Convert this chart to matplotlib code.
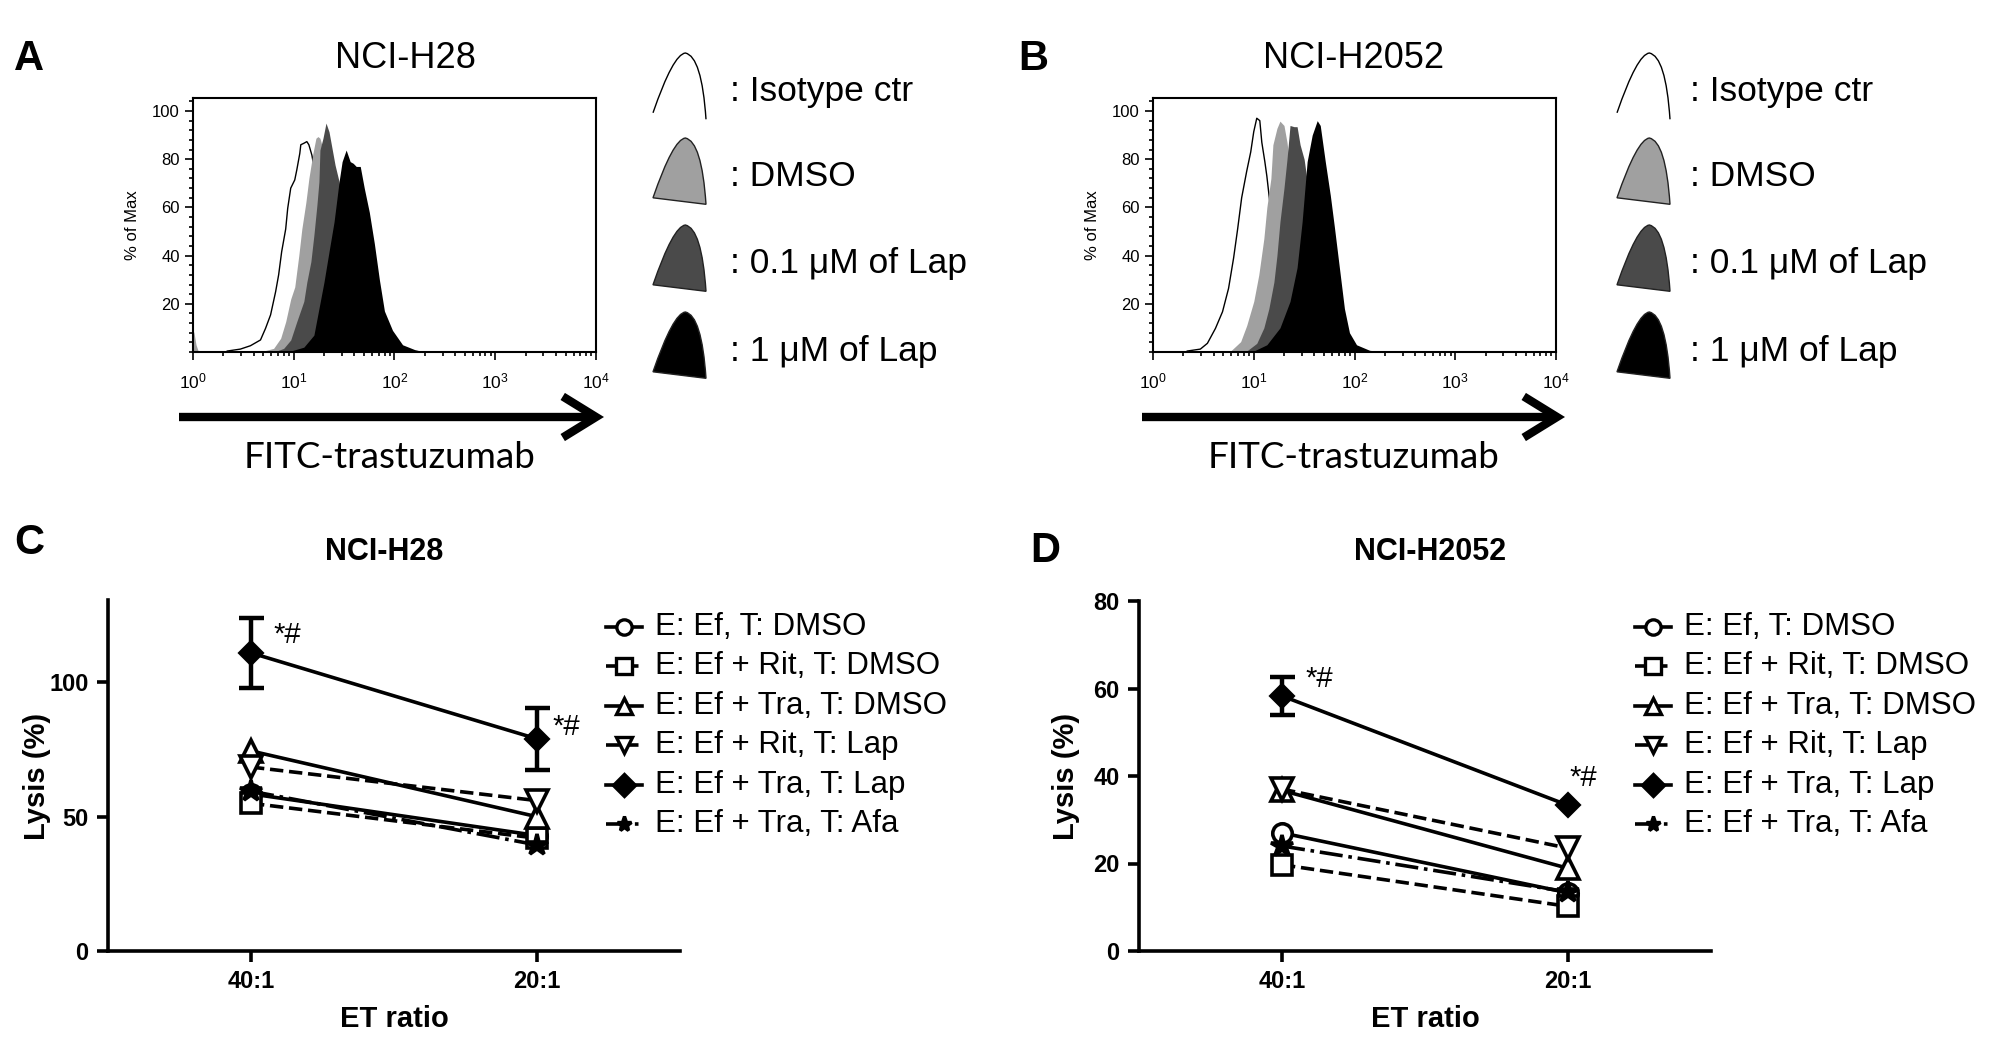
import numpy as np
import matplotlib
matplotlib.use("Agg")
import matplotlib.pyplot as plt
from matplotlib.patches import PathPatch, FancyArrowPatch, ArrowStyle
from matplotlib.path import Path
from matplotlib.ticker import MultipleLocator, FixedLocator, LogLocator, NullFormatter

plt.rcParams['font.family'] = ['Liberation Sans', 'DejaVu Sans']
plt.rcParams['mathtext.fontset'] = 'custom'
plt.rcParams['mathtext.rm'] = 'Liberation Sans'
plt.rcParams['mathtext.it'] = 'Liberation Sans:italic'
plt.rcParams['mathtext.bf'] = 'Liberation Sans:bold'

# ---- flow histograms: log10(fluorescence), % of max ----
iso_a_log = [0.34, 0.47, 0.57, 0.67, 0.72, 0.77, 0.82, 0.85, 0.88, 0.92, 0.94, 0.97, 1.01, 1.03, 1.06, 1.07, 1.10, 1.13, 1.15, 1.18, 1.25, 1.35, 1.45, 1.6, 1.8, 2.0]
iso_a_pct = [0.4, 1.2, 2.6, 5, 9.8, 15.4, 25, 32, 41.6, 51, 59.6, 68, 71.4, 75.5, 82.4, 86, 86.6, 87.3, 86, 81.7, 65, 40, 20, 6, 1, 0]
dmso_a_log = [0.0, 0.01, 0.03, 0.055, 0.70, 0.80, 0.87, 0.92, 0.97, 1.01, 1.05, 1.08, 1.12, 1.15, 1.19, 1.22, 1.24, 1.26, 1.32, 1.4, 1.5, 1.6, 1.75, 1.9, 2.05]
dmso_a_pct = [9, 8, 3, 0, 0.4, 1.5, 5.7, 12.6, 22, 27, 40, 51, 62, 72, 82.4, 88.7, 89.4, 88.7, 80, 62, 40, 20, 5, 1, 0]
lap01_a_log = [0.83, 0.90, 0.97, 1.03, 1.10, 1.13, 1.17, 1.20, 1.23, 1.25, 1.26, 1.29, 1.32, 1.35, 1.38, 1.41, 1.45, 1.5, 1.6, 1.7, 1.8, 1.95, 2.1]
lap01_a_pct = [0.4, 1.5, 5, 12.6, 21, 29, 37.5, 48.5, 61, 70.7, 83.8, 88.7, 95, 91.4, 84.5, 77.6, 70.7, 58, 35, 18, 7, 1.5, 0]
lap1_a_log = [0.97, 1.10, 1.20, 1.25, 1.30, 1.35, 1.40, 1.45, 1.48, 1.52, 1.56, 1.59, 1.62, 1.66, 1.70, 1.75, 1.80, 1.85, 1.90, 1.98, 2.08, 2.2, 2.3]
lap1_a_pct = [0.4, 2, 7, 18, 29, 41.6, 54, 70.7, 79, 83.8, 79, 78.3, 77, 77, 68, 58, 45, 30, 17, 9, 3, 1, 0]

iso_b_log = [0.34, 0.47, 0.54, 0.62, 0.69, 0.75, 0.80, 0.84, 0.88, 0.93, 0.97, 1.0, 1.03, 1.06, 1.08, 1.11, 1.13, 1.16, 1.22, 1.3, 1.4, 1.55]
iso_b_pct = [0.4, 1.2, 3.6, 9.8, 16.7, 26.4, 39, 51, 64, 75, 83, 91.4, 97, 96, 87, 79, 73, 62, 40, 16, 4, 0]
dmso_b_log = [0.77, 0.87, 0.93, 1.0, 1.05, 1.10, 1.13, 1.17, 1.19, 1.23, 1.26, 1.30, 1.33, 1.38, 1.45, 1.55, 1.65, 1.8, 1.9]
dmso_b_pct = [0.4, 4.3, 11, 21, 32, 47, 60, 72, 86, 92.8, 95.8, 94, 87, 70, 45, 20, 6, 1, 0]
lap01_b_log = [0.93, 1.03, 1.10, 1.15, 1.20, 1.23, 1.26, 1.30, 1.33, 1.36, 1.40, 1.43, 1.46, 1.50, 1.55, 1.62, 1.72, 1.82, 1.95, 2.05]
lap01_b_pct = [0.4, 3.6, 10, 18, 29, 40, 54, 68, 80, 94, 93.5, 93.5, 86, 80, 65, 40, 18, 5, 1, 0]
lap1_b_log = [1.0, 1.13, 1.26, 1.36, 1.43, 1.48, 1.53, 1.58, 1.63, 1.66, 1.71, 1.76, 1.80, 1.85, 1.90, 1.95, 2.02, 2.15, 2.3]
lap1_b_pct = [0.4, 3, 10, 21, 35, 54, 79, 90, 96, 94, 79, 65, 52, 35, 18, 8, 3, 0.7, 0]

hist_labels = [': Isotype ctr', ': DMSO', ': 0.1 \u03bcM of Lap', ': 1 \u03bcM of Lap']

# ---- lysis assay ----
et_labels = ['40:1', '20:1']
series_labels = ['E: Ef, T: DMSO', 'E: Ef + Rit, T: DMSO', 'E: Ef + Tra, T: DMSO',
                 'E: Ef + Rit, T: Lap', 'E: Ef + Tra, T: Lap', 'E: Ef + Tra, T: Afa']
h28_ef_dmso = [58.5, 43]
h28_rit_dmso = [55, 42]
h28_tra_dmso = [74.5, 50]
h28_rit_lap = [68.5, 56]
h28_tra_lap = [111, 79]
h28_tra_lap_err = [13, 11.5]
h28_tra_afa = [59.5, 39.5]

h2052_ef_dmso = [27, 13.3]
h2052_rit_dmso = [19.7, 10.2]
h2052_tra_dmso = [36.7, 18.9]
h2052_rit_lap = [37, 23.5]
h2052_tra_lap = [58.3, 33.3]
h2052_tra_lap_err = [4.3, 0]
h2052_tra_afa = [24, 13.5]

W, H = 2008, 1063
fig = plt.figure(figsize=(W / 100, H / 100), dpi=100)


def rect(x0, y0, x1, y1):
    return [x0 / W, 1 - y1 / H, (x1 - x0) / W, (y1 - y0) / H]


fill_cols = ['#a0a0a0', '#4a4a4a', '#000000']


def hist_panel(box, iso, fills):
    ax = fig.add_axes(rect(*box))
    ax.set_xscale('log')
    ax.plot(10 ** np.array(iso[0]), iso[1], color='black', lw=1.0, zorder=1)
    for (lg, pc), col in zip(fills, fill_cols):
        ax.fill_between(10 ** np.array(lg), pc, 0, color=col, lw=0, zorder=2)
    ax.set_xlim(1, 1e4)
    ax.set_ylim(0, 105.4)
    ax.yaxis.set_major_locator(FixedLocator([20, 40, 60, 80, 100]))
    ax.yaxis.set_minor_locator(MultipleLocator(4))
    ax.xaxis.set_major_locator(LogLocator(base=10))
    ax.xaxis.set_minor_locator(LogLocator(base=10, subs=np.arange(2, 10)))
    ax.xaxis.set_minor_formatter(NullFormatter())
    ax.tick_params(which='both', direction='out', top=False, right=False, width=1.2)
    ax.tick_params(which='major', length=6)
    ax.tick_params(which='minor', length=3)
    ax.tick_params(axis='x', pad=8, labelsize=12.5)
    ax.tick_params(axis='y', labelsize=12)
    for s in ax.spines.values():
        s.set_linewidth(1.5)
    ax.set_ylabel('% of Max', fontsize=12, labelpad=9)
    return ax


hist_panel((193, 98, 596, 352), (iso_a_log, iso_a_pct),
           [(dmso_a_log, dmso_a_pct), (lap01_a_log, lap01_a_pct), (lap1_a_log, lap1_a_pct)])
hist_panel((1153, 98, 1556, 352), (iso_b_log, iso_b_pct),
           [(dmso_b_log, dmso_b_pct), (lap01_b_log, lap01_b_pct), (lap1_b_log, lap1_b_pct)])

markers = ['o', 's', '^', 'v', 'D', '*']
lstyles = ['-', '--', '-', '--', '-', '-.']
faces = ['white', 'white', 'white', 'white', 'black', 'black']
msizes = [14, 14, 15.5, 15.5, 11, 16]


def lysis_panel(box, series, err, ymax, yticks, star_offsets):
    ax = fig.add_axes(rect(*box))
    x = np.arange(len(et_labels))
    for vals, mk, ls, fc, ms in zip(series, markers, lstyles, faces, msizes):
        ax.plot(x, vals, ls=ls, marker=mk, mfc=fc, mec='black', color='black',
                lw=2.6, ms=ms, mew=2.6, clip_on=False)
    err = np.array(err)
    keep = err > 0
    ax.errorbar(x[keep], np.array(series[4])[keep], yerr=err[keep], fmt='none',
                ecolor='black', elinewidth=3.2, capsize=9, capthick=3.2)
    for i, off in enumerate(star_offsets):
        ax.annotate('*#', (x[i], series[4][i] + err[i]), xytext=off,
                    textcoords='offset points', ha='center', va='center', fontsize=21)
    ax.set_xlim(-0.5, 1.5)
    ax.set_ylim(0, ymax)
    ax.set_xticks(x, et_labels)
    ax.set_yticks(yticks)
    for s in ['top', 'right']:
        ax.spines[s].set_visible(False)
    for s in ['left', 'bottom']:
        ax.spines[s].set_linewidth(2.6)
    ax.tick_params(width=2.6, length=8, labelsize=17, pad=6)
    for lab in ax.get_xticklabels() + ax.get_yticklabels():
        lab.set_fontweight('bold')
    ax.set_xlabel('ET ratio', fontsize=21, fontweight='bold', labelpad=8)
    return ax


lysis_panel((108, 600, 680, 951),
            [h28_ef_dmso, h28_rit_dmso, h28_tra_dmso, h28_rit_lap, h28_tra_lap, h28_tra_afa],
            h28_tra_lap_err, 130.7, [0, 50, 100], [(26, -12), (21, -14)])
lysis_panel((1139, 601, 1711, 951),
            [h2052_ef_dmso, h2052_rit_dmso, h2052_tra_dmso, h2052_rit_lap, h2052_tra_lap, h2052_tra_afa],
            h2052_tra_lap_err, 80, [0, 20, 40, 60, 80], [(27, -1.5), (11, 20)])

# ---- overlay in pixel coordinates: letters, titles, arrows, legends ----
ov = fig.add_axes([0, 0, 1, 1])
ov.set_xlim(0, W)
ov.set_ylim(H, 0)
ov.axis('off')

for letter, (lx, ly) in zip('ABCD', [(29, 59), (1033, 59), (29, 543), (1045, 551)]):
    ov.text(lx, ly, letter, fontsize=30, fontweight='bold', ha='center', va='center')

ov.text(405, 58, 'NCI-H28', fontsize=26, ha='center', va='center')
ov.text(1354, 58, 'NCI-H2052', fontsize=26, ha='center', va='center')
ov.text(384, 552, 'NCI-H28', fontsize=22, fontweight='bold', ha='center', va='center')
ov.text(1430, 552, 'NCI-H2052', fontsize=22, fontweight='bold', ha='center', va='center')
ov.text(37, 776, 'Lysis (%)', fontsize=21, fontweight='bold', rotation=90,
        ha='center', va='center')
ov.text(1066, 776, 'Lysis (%)', fontsize=21, fontweight='bold', rotation=90,
        ha='center', va='center')

for x0, x1, xc in [(179, 604, 390), (1142, 1565, 1354)]:
    ov.add_patch(FancyArrowPatch((x0, 417), (x1, 417),
                                 arrowstyle=ArrowStyle('->', head_length=0.6, head_width=0.37),
                                 mutation_scale=40, lw=6, color='black',
                                 shrinkA=0, shrinkB=0, joinstyle='miter', capstyle='butt'))
    ov.text(xc, 458, 'FITC-trastuzumab', fontsize=26.5, family=['Lato', 'DejaVu Sans'],
            ha='center', va='center')


def glyph(x0, yb, w=53, h=65):
    pts = [(0, 0.08), (0.38, 0.98), (0.61, 1.0), (0.92, 0.95), (1.0, -0.02)]
    return [(x0 + px * w, yb - py * h) for px, py in pts]


glyph_cols = [None, '#a0a0a0', '#4a4a4a', '#000000']
row_bottoms = [118, 203, 290, 377]
for gx, tx in [(653, 730), (1617, 1690)]:
    for lab, col, yb in zip(hist_labels, glyph_cols, row_bottoms):
        v = glyph(gx, yb)
        if col is None:
            p = Path(v, [Path.MOVETO, Path.CURVE3, Path.CURVE3, Path.CURVE3, Path.CURVE3])
            ov.add_patch(PathPatch(p, fc='none', ec='black', lw=1.0))
        else:
            p = Path(v + [v[0]], [Path.MOVETO, Path.CURVE3, Path.CURVE3, Path.CURVE3,
                                  Path.CURVE3, Path.CLOSEPOLY])
            ov.add_patch(PathPatch(p, fc=col, ec='#222222', lw=1.0))
        ov.text(tx, yb - 26, lab, fontsize=25.5, ha='left', va='center')

row_y = [627 + 39.4 * i for i in range(len(series_labels))]
for hx0, hx1, tx in [(606, 642, 655), (1635, 1671, 1684)]:
    for lab, mk, ls, fc, ry in zip(series_labels, markers, lstyles, faces, row_y):
        ov.plot([hx0, (hx0 + hx1) / 2, hx1], [ry, ry, ry], ls=ls, color='black', lw=2.6,
                marker=mk, markevery=[1], mfc=fc, mec='black', mew=2.4, ms=11)
        ov.text(tx, ry, lab, fontsize=22.5, ha='left', va='center')

fig.savefig('out.png', dpi=100)
